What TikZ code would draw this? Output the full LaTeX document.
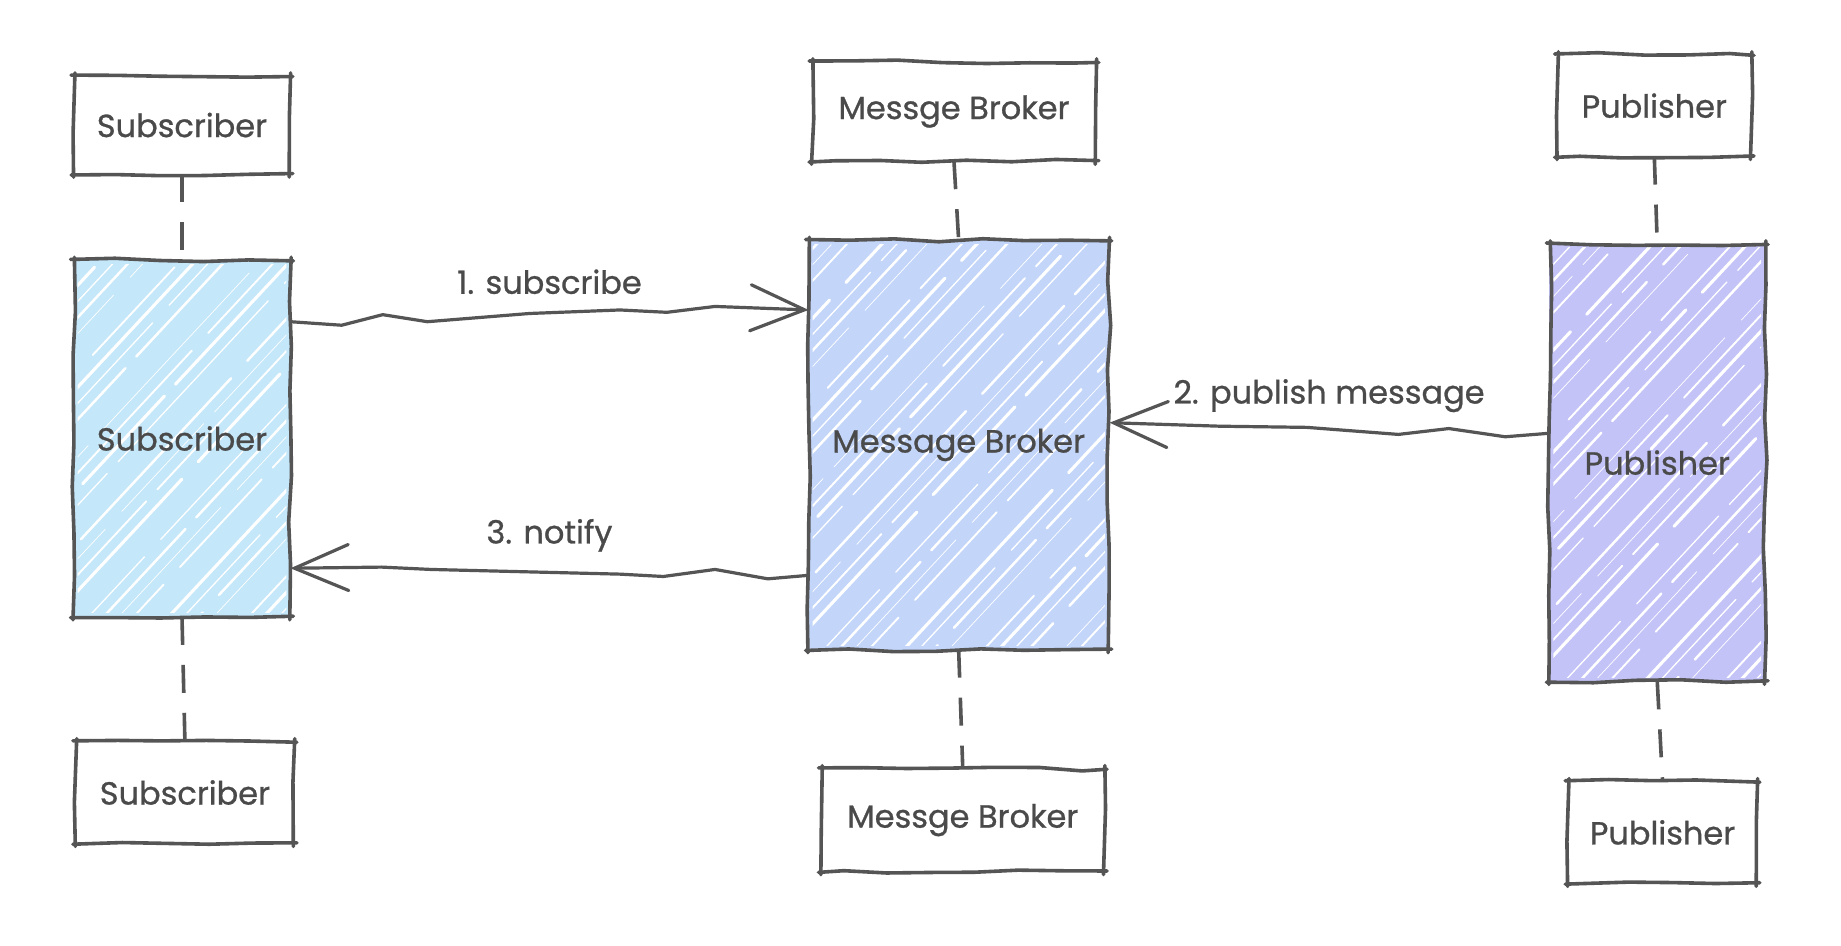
\documentclass[tikz,border=0pt]{standalone}
\usepackage{fontspec}
\setmainfont{Poppins}[FakeBold=0.8]
\usetikzlibrary{arrows.meta,decorations.pathmorphing,calc}
\definecolor{ink}{HTML}{555555}
\definecolor{txt}{HTML}{4A4A4A}
\definecolor{subfill}{HTML}{C4E7F9}
\definecolor{brkfill}{HTML}{C3D6FA}
\definecolor{pubfill}{HTML}{C3C3F8}
\def\U{0.58705pt}
\pgfdeclarelayer{bg}
\pgfsetlayers{bg,main}
\tikzset{
  lbl/.style={font=\fontsize{16}{18}\selectfont, text=txt, inner sep=0pt},
  edge/.style={draw=ink, line width=1.8pt, line cap=round, line join=round,
     decorate, decoration={random steps, segment length=22pt, amplitude=0.9pt}},
  life/.style={draw=ink, line width=1.8pt, dash pattern=on 14pt off 10pt},
  msg/.style={draw=ink, line width=1.6pt, line cap=round, line join=round,
     -{Straight Barb[length=27pt, width=23pt, line cap=round]}},
}
\newcommand\skbox[1]{%
  \draw[edge] ([shift={(-1.5pt,0.4pt)}]#1.north west) -- ([shift={(1.5pt,-0.3pt)}]#1.north east);
  \draw[edge] ([shift={(0.4pt,1.5pt)}]#1.north east) -- ([shift={(-0.3pt,-1.5pt)}]#1.south east);
  \draw[edge] ([shift={(1.5pt,0.3pt)}]#1.south east) -- ([shift={(-1.5pt,-0.4pt)}]#1.south west);
  \draw[edge] ([shift={(-0.3pt,-1.5pt)}]#1.south west) -- ([shift={(0.4pt,1.5pt)}]#1.north west);
}
\newcommand\hatchfill[2]{%
  \begin{pgfonlayer}{bg}
  \fill[#2] (#1.south west) rectangle (#1.north east);
  \begin{scope}
    \clip ([shift={(2pt,2pt)}]#1.south west) rectangle ([shift={(-2pt,-2pt)}]#1.north east);
    \foreach \i in {0,...,80} {
      \pgfmathsetmacro\lw{mod(\i*7,5)*0.3+0.35}
      \pgfmathsetmacro\ph{mod(\i*53,140)}
      \pgfmathsetmacro\off{mod(\i*3,4)*2.5}
      \draw[white, line width=\lw pt, line cap=round, dash pattern=on 110pt off 12pt on 60pt off 8pt, dash phase=\ph pt]
        ($(#1.south west)+(\i*10pt+\off pt-330pt,0)$) -- ++(47:560pt);
    }
  \end{scope}
  \end{pgfonlayer}
}
\begin{document}
\begin{tikzpicture}[x=\U, y=-\U]
\useasboundingbox (0,0) rectangle (1568,805);
\begin{pgfonlayer}{bg}
\fill[white] (0,0) rectangle (1568,805);
\end{pgfonlayer}

% Subscriber column
\node[lbl, minimum width={183*\U}, minimum height={83*\U}] (sub1) at (155,106.5) {Subscriber};
\node[lbl, minimum width={184*\U}, minimum height={303*\U}] (sub) at (155,373.5) {Subscriber};
\node[lbl, minimum width={185*\U}, minimum height={86*\U}] (sub2) at (157.5,675) {Subscriber};

% Broker column
\node[lbl, minimum width={241*\U}, minimum height={84*\U}] (brk1) at (812.5,95) {Messge Broker};
\node[lbl, minimum width={255*\U}, minimum height={348*\U}] (brk) at (816.5,379) {Message Broker};
\node[lbl, minimum width={240*\U}, minimum height={87*\U}] (brk2) at (820,698.5) {Messge Broker};

% Publisher column
\node[lbl, minimum width={164*\U}, minimum height={86*\U}] (pub1) at (1409,90) {Publisher};
\node[lbl, minimum width={183*\U}, minimum height={372*\U}] (pub) at (1411.5,394) {Publisher};
\node[lbl, minimum width={160*\U}, minimum height={86*\U}] (pub2) at (1416,709) {Publisher};

\hatchfill{sub}{subfill}
\hatchfill{brk}{brkfill}
\hatchfill{pub}{pubfill}

\pgfmathsetseed{11}
\foreach \b in {sub1,sub,sub2,brk1,brk,brk2,pub1,pub,pub2} {\skbox{\b}}

% lifelines
\draw[life] (sub1.south) -- (sub.north);
\draw[life] (sub.south) -- (sub2.north);
\draw[life] (brk1.south) -- (brk.north);
\draw[life] (brk.south) -- (brk2.north);
\draw[life] (pub1.south) -- (pub.north);
\draw[life] (pub.south) -- (pub2.north);

% messages
\draw[msg] (sub.east |- 0,274) -- (291,277) -- (326,268) -- (364,274) -- (451,267)
  -- (528,264) -- (568,266) -- (609,261) -- (brk.west |- 0,264);
\node[lbl] (m1) at (468,240) {1. subscribe};

\draw[msg] (pub.west |- 0,369) -- (1282,372) -- (1234,365) -- (1191,370) -- (1113,364)
  -- (1039,363) -- (945,360);
\node[lbl] (m2) at (1132,337) {2. publish message};

\draw[msg] (brk.west |- 0,490) -- (654,493) -- (609,485) -- (565,491) -- (528,489)
  -- (367,485) -- (325,483) -- (sub.east |- 0,484);
\node[lbl] (m3) at (468,456) {3. notify};
\end{tikzpicture}
\end{document}
